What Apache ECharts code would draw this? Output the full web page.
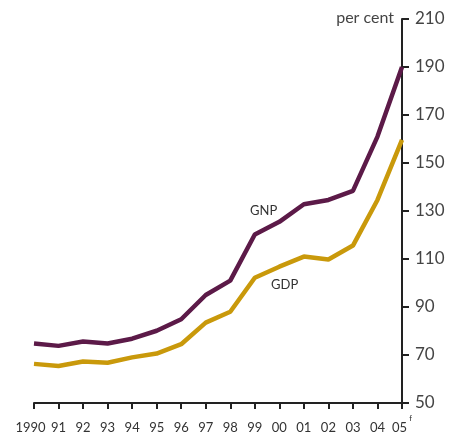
<!DOCTYPE html>
<html>
<head>
<meta charset="utf-8">
<script src="https://cdn.jsdelivr.net/npm/echarts@6/dist/echarts.min.js"></script>
<style>
  html, body { margin: 0; padding: 0; background: #fff; }
  #chart { width: 462px; height: 432px; }
</style>
</head>
<body>
<div id="chart"></div>
<script>
const years = ['1990', '91', '92', '93', '94', '95', '96', '97', '98', '99', '00', '01', '02', '03', '04', '05']
const gnp = [74.8, 73.8, 75.6, 74.8, 76.8, 80.1, 84.9, 95, 101, 120.2, 125.5, 132.8, 134.6, 138.4, 161, 190]
const gdp = [66.3, 65.4, 67.3, 66.8, 69, 70.6, 74.5, 83.5, 88, 102.2, 106.8, 111, 109.8, 115.6, 134.6, 159.6]
const yTicks = { min: 50, max: 210, step: 20 }

const font = 'Lato, "DejaVu Sans", sans-serif'
const chart = echarts.init(document.getElementById('chart'))

// first label sits a little left of its tick, last one carries a superscript f
function yearLabel(v, i) {
  if (i === 0) return '{first|' + v + '}'
  if (v === '05') return '{n|05}{sup|f}'
  return '{n|' + v + '}'
}

const numStyle = { fontSize: 13, lineHeight: 20, verticalAlign: 'bottom', color: '#333', fontFamily: font }

chart.setOption({
  animation: false,
  grid: { left: 34, right: 60, top: 19, bottom: 29, outerBoundsMode: 'none', containLabel: false },
  xAxis: {
    type: 'category',
    data: years,
    boundaryGap: false,
    axisLine: { lineStyle: { color: '#222', width: 2 } },
    axisTick: { length: 6, lineStyle: { color: '#222', width: 2 } },
    axisLabel: {
      color: '#333',
      fontFamily: font,
      fontSize: 13,
      margin: 11,
      interval: 0,
      formatter: yearLabel,
      rich: {
        n: numStyle,
        first: Object.assign({}, numStyle, { padding: [0, 7, 0, 0] }),
        sup: { fontSize: 8, lineHeight: 20, verticalAlign: 'top', padding: [0, 0, 0, 2], color: '#333', fontFamily: font }
      }
    }
  },
  yAxis: {
    type: 'value',
    position: 'right',
    min: yTicks.min,
    max: yTicks.max,
    interval: yTicks.step,
    splitLine: { show: false },
    axisLine: { show: true, lineStyle: { color: '#222', width: 2 } },
    axisTick: { show: true, length: 7, lineStyle: { color: '#222', width: 2 } },
    axisLabel: { color: '#444', fontFamily: font, fontSize: 17, margin: 13 }
  },
  graphic: [
    { type: 'text', right: 68, top: 10, style: { text: 'per cent', fill: '#444', font: '16px ' + font } },
    { type: 'text', left: 250, top: 204, style: { text: 'GNP', fill: '#333', font: '13px ' + font } },
    { type: 'text', left: 271, top: 278, style: { text: 'GDP', fill: '#333', font: '13px ' + font } }
  ],
  series: [
    {
      name: 'GNP', type: 'line', data: gnp, symbol: 'none',
      lineStyle: { color: '#5c1a48', width: 4.5 }
    },
    {
      name: 'GDP', type: 'line', data: gdp, symbol: 'none',
      lineStyle: { color: '#c9990b', width: 4.5 }
    }
  ]
})
</script>
</body>
</html>
